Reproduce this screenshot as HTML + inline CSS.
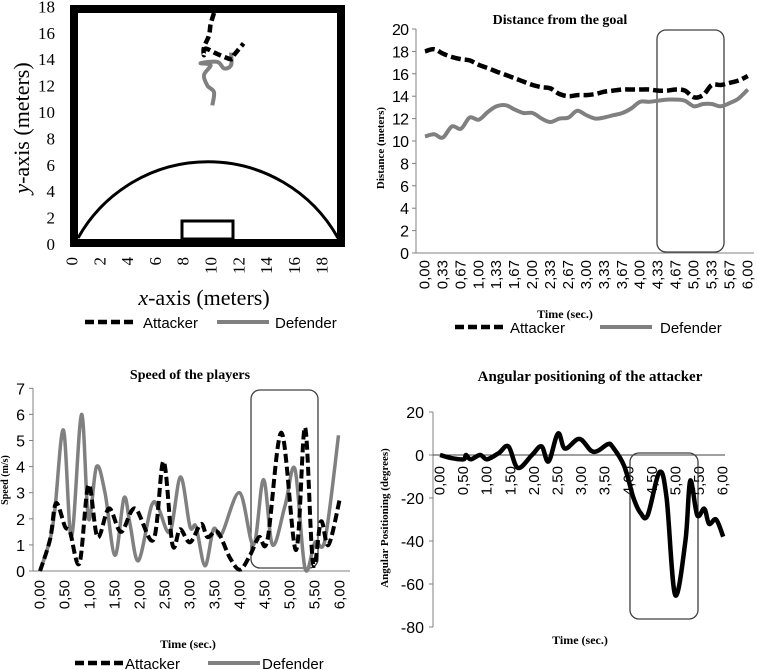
<!DOCTYPE html>
<html><head><meta charset="utf-8">
<style>
html,body{margin:0;padding:0;background:#fff;}
svg{display:block;}
.serif{font-family:"Liberation Serif",serif;}
.sans{font-family:"Liberation Sans",sans-serif;}
</style></head>
<body>
<svg id="fig" width="757" height="670" viewBox="0 0 757 670" xmlns="http://www.w3.org/2000/svg">
<g id="p1"></g>
<g id="p2"></g>
<g id="p3"></g>
<g id="p4"></g>
</svg>
<script>
// ---- Panel 1: field trajectories (meters) ----
const fieldTicks = [0,2,4,6,8,10,12,14,16,18];
const attackerPathX = [10.07,9.83,9.71,9.35,9.35,9.47,10.3,11.3,11.5,12.2];
const attackerPathY = [17.5,16.65,15.8,14.9,14.3,14.8,14.4,14.0,14.3,15.2];
const defenderPathX = [9.95,10.07,9.6,9.35,9.83,9.11,10.3,10.8,11.3,11.3];
const defenderPathY = [10.5,11.5,12.0,12.8,13.55,13.7,13.8,13.3,13.55,14.5];

// ---- Panel 2: distance from goal ----
const distTimes = [0,0.17,0.33,0.5,0.67,0.83,1,1.17,1.33,1.5,1.67,1.83,2,2.17,2.33,2.5,2.67,2.83,3,3.17,3.33,3.5,3.67,3.83,4,4.17,4.33,4.5,4.67,4.83,5,5.17,5.33,5.5,5.67,5.83,6];
const distAttacker = [18.0,18.2,17.8,17.5,17.3,17.2,16.8,16.5,16.2,15.9,15.6,15.3,15.0,14.8,14.7,14.2,14.0,14.1,14.1,14.2,14.4,14.5,14.6,14.6,14.6,14.6,14.5,14.5,14.6,14.5,13.9,14.1,15.0,15.0,15.2,15.4,15.8];
const distDefender = [10.4,10.6,10.3,11.3,11.1,12.1,11.9,12.6,13.1,13.2,12.8,12.5,12.5,12.0,11.7,12.0,12.1,12.7,12.3,12.0,12.1,12.3,12.5,12.9,13.5,13.5,13.6,13.7,13.7,13.6,13.1,13.3,13.3,13.1,13.4,13.8,14.6];
const distTickLabels = ["0,00","0,33","0,67","1,00","1,33","1,67","2,00","2,33","2,67","3,00","3,33","3,67","4,00","4,33","4,67","5,00","5,33","5,67","6,00"];
const distYTicks = [0,2,4,6,8,10,12,14,16,18,20];

// ---- Panel 3: speed ----
const spdAttTimes = [0,0.2,0.32,0.5,0.6,0.79,0.97,1.15,1.38,1.62,1.9,2.27,2.47,2.65,2.8,3.0,3.22,3.35,3.55,3.8,4.0,4.2,4.38,4.55,4.83,5.12,5.3,5.46,5.62,5.77,6.0];
const spdAttacker = [0,1.2,2.6,1.7,1.5,0.3,3.3,1.3,2.4,1.5,2.4,1.2,4.2,1.0,1.6,1.1,1.8,1.3,1.5,0.5,0.05,0.6,1.3,1.2,5.3,0.8,5.5,0.3,1.9,1.0,2.8];
const spdDefTimes = [0,0.2,0.3,0.47,0.63,0.83,0.97,1.13,1.3,1.5,1.68,1.8,1.97,2.23,2.37,2.6,2.81,3.0,3.12,3.3,3.47,3.63,3.99,4.27,4.47,4.65,4.9,5.1,5.3,5.5,5.7,5.97];
const spdDefender = [0,1.2,2.4,5.4,1.3,6.0,2.0,4.0,3.0,0.6,2.8,1.8,0.4,2.5,2.4,1.5,3.6,1.7,1.7,0.2,1.6,1.4,3.0,1.0,3.5,1.0,2.5,3.9,0.1,1.1,1.2,5.2];
const halfTickLabels = ["0,00","0,50","1,00","1,50","2,00","2,50","3,00","3,50","4,00","4,50","5,00","5,50","6,00"];
const spdYTicks = [0,1,2,3,4,5,6,7];

// ---- Panel 4: angular positioning ----
const angTimes = [0,0.25,0.5,0.55,0.65,0.85,1.0,1.25,1.45,1.65,1.95,2.15,2.3,2.5,2.65,2.95,3.2,3.35,3.55,3.65,3.9,4.1,4.25,4.4,4.65,4.8,4.98,5.2,5.3,5.45,5.6,5.7,5.85,6.0];
const angValues = [0,-1.5,-2,0,-2,0,-2,1,4,-6,0,4,-3,10,3,7.5,2,2,5,4,-5,-20,-27,-28,-8,-20,-65,-40,-12,-28,-25,-32,-30,-38];
const angYTicks = [20,0,-20,-40,-60,-80];

const NS="http://www.w3.org/2000/svg";
function mk(parent,tag,attrs,text){const e=document.createElementNS(NS,tag);for(const k in attrs)e.setAttribute(k,attrs[k]);if(text!==undefined)e.textContent=text;parent.appendChild(e);return e;}
function smooth(pts){let d="M"+pts[0][0].toFixed(1)+","+pts[0][1].toFixed(1);
 for(let i=0;i<pts.length-1;i++){const p0=pts[i-1]||pts[i],p1=pts[i],p2=pts[i+1],p3=pts[i+2]||p2;
  const c1=[p1[0]+(p2[0]-p0[0])/6,p1[1]+(p2[1]-p0[1])/6],c2=[p2[0]-(p3[0]-p1[0])/6,p2[1]-(p3[1]-p1[1])/6];
  d+=" C"+c1[0].toFixed(1)+","+c1[1].toFixed(1)+" "+c2[0].toFixed(1)+","+c2[1].toFixed(1)+" "+p2[0].toFixed(1)+","+p2[1].toFixed(1);}
 return d;}
function legend(g,y,x1,x2,x3,x4){
 let a=mk(g,"line",{x1:x1,y1:y,x2:x1+48,y2:y,stroke:"#000","stroke-width":4.5,"stroke-dasharray":"9,4"});
 
 
 let t=mk(g,"text",{x:x2,y:y+6,"font-size":15,class:"sans"},"Attacker");
 
 
 let b=mk(g,"line",{x1:x3,y1:y,x2:x3+52,y2:y,stroke:"#808080","stroke-width":4});
 
 
 let u=mk(g,"text",{x:x4,y:y+6,"font-size":15,class:"sans"},"Defender");
 
 
}
function rotLabel(g,x,y,txt,size,cls){const t=mk(g,"text",{x:0,y:0,"font-size":size,class:cls,"text-anchor":"end",transform:`translate(${x},${y}) rotate(-90)`,"dominant-baseline":"central"},txt);return t;}

// ===== Panel 1 =====
(function(){
 const g=document.getElementById("p1");
 const X=v=>74+v*13.9, Y=v=>244-v*13.2;
 fieldTicks.forEach(v=>{
  let t=mk(g,"text",{x:55,y:Y(v)+6,"font-size":17,"text-anchor":"end",class:"serif"},String(v));
  
  
  let u=rotLabel(g,X(v)-2,257,String(v),17,"serif");
  
  
 });
 let arc=mk(g,"path",{d:"M78,238 A149,149 0 0 1 338,238",fill:"none",stroke:"#000","stroke-width":3});
 
 
 let gb=mk(g,"rect",{x:182,y:221,width:51,height:18,fill:"none",stroke:"#000","stroke-width":3});
 
 
 let fr=mk(g,"rect",{x:74,y:9,width:267,height:234,fill:"none",stroke:"#000","stroke-width":8});
 
 
 let dp=mk(g,"path",{d:smooth(defenderPathX.map((v,i)=>[X(v),Y(defenderPathY[i])])),fill:"none",stroke:"#808080","stroke-width":4});
 
 
 let ap=mk(g,"path",{d:smooth(attackerPathX.map((v,i)=>[X(v),Y(attackerPathY[i])])),fill:"none",stroke:"#000","stroke-width":4.5,"stroke-dasharray":"8,4"});
 
 
 let yt=mk(g,"text",{x:0,y:0,"font-size":22,class:"serif","text-anchor":"middle",transform:"translate(29,128) rotate(-90)"});
 yt.innerHTML='<tspan font-style="italic">y</tspan>-axis (meters)';
 
 
 let xt=mk(g,"text",{x:204,y:305,"font-size":22,class:"serif","text-anchor":"middle"});
 xt.innerHTML='<tspan font-style="italic">x</tspan>-axis (meters)';
 
 
 legend(g,322,85,143,217,275);
})();

// ===== Panel 2 =====
(function(){
 const g=document.getElementById("p2");
 const X=t=>425+t*53.8, Y=v=>253-v*11.2;
 let ti=mk(g,"text",{x:560,y:24,"font-size":14,"font-weight":"bold",class:"serif","text-anchor":"middle"},"Distance from the goal");
 
 
 let ax=mk(g,"path",{d:`M416,${Y(20)} V${Y(0)} H754`,fill:"none",stroke:"#808080","stroke-width":1});
 
 
 distYTicks.forEach(v=>{
  mk(g,"line",{x1:412,x2:416,y1:Y(v),y2:Y(v),stroke:"#808080"});
  let t=mk(g,"text",{x:409,y:Y(v)+6,"font-size":16,"text-anchor":"end",class:"sans","textLength":v>=10?17:8},String(v));
  
  
 });
 distTickLabels.forEach((s,i)=>{
  const t=rotLabel(g,X(i/3),260,s,15,"sans");
  
  
 });
 let box=mk(g,"rect",{x:657,y:30,width:67,height:222,rx:9,fill:"none",stroke:"#404040","stroke-width":1.3});
 
 
 let dl=mk(g,"path",{d:smooth(distTimes.map((t,i)=>[X(t),Y(distDefender[i])])),fill:"none",stroke:"#808080","stroke-width":4});
 
 
 let al=mk(g,"path",{d:smooth(distTimes.map((t,i)=>[X(t),Y(distAttacker[i])])),fill:"none",stroke:"#000","stroke-width":4.5,"stroke-dasharray":"10,4"});
 
 
 let yt=mk(g,"text",{x:0,y:0,"font-size":11,"font-weight":"bold",class:"serif","text-anchor":"middle",transform:"translate(384,148) rotate(-90)"},"Distance (meters)");
 
 
 let xt=mk(g,"text",{x:565,y:318,"font-size":12,"font-weight":"bold",class:"serif","text-anchor":"middle"},"Time (sec.)");
 
 
 legend(g,327,455,510,600,660);
})();

// ===== Panel 3 =====
(function(){
 const g=document.getElementById("p3");
 const X=t=>40+t*50, Y=v=>571-v*26.1;
 let ti=mk(g,"text",{x:190,y:379,"font-size":14,"font-weight":"bold",class:"serif","text-anchor":"middle"},"Speed of the players");
 
 
 let ax=mk(g,"path",{d:`M33,${Y(7)} V${Y(0)} H350`,fill:"none",stroke:"#808080","stroke-width":1});
 
 
 spdYTicks.forEach(v=>{
  mk(g,"line",{x1:29,x2:33,y1:Y(v),y2:Y(v),stroke:"#808080"});
  let t=mk(g,"text",{x:25,y:Y(v)+6,"font-size":16,"text-anchor":"end",class:"sans"},String(v));
  
  
 });
 halfTickLabels.forEach((s,i)=>{
  const t=rotLabel(g,X(i*0.5),580,s,15,"sans");
  
  
 });
 let box=mk(g,"rect",{x:251,y:390,width:67,height:178,rx:9,fill:"none",stroke:"#404040","stroke-width":1.3});
 
 
 let dl=mk(g,"path",{d:smooth(spdDefTimes.map((t,i)=>[X(t),Y(spdDefender[i])])),fill:"none",stroke:"#808080","stroke-width":3.5});
 
 
 let al=mk(g,"path",{d:smooth(spdAttTimes.map((t,i)=>[X(t),Y(spdAttacker[i])])),fill:"none",stroke:"#000","stroke-width":4,"stroke-dasharray":"9,4"});
 
 
 let yt=mk(g,"text",{x:0,y:0,"font-size":10,"font-weight":"bold",class:"serif","text-anchor":"middle",transform:"translate(8,480) rotate(-90)"},"Speed (m/s)");
 
 
 let xt=mk(g,"text",{x:188,y:648,"font-size":12,"font-weight":"bold",class:"serif","text-anchor":"middle"},"Time (sec.)");
 
 
 legend(g,663,75,125,208,262);
})();

// ===== Panel 4 =====
(function(){
 const g=document.getElementById("p4");
 const X=t=>440+t*47.2, Y=v=>455-v*2.15;
 let ti=mk(g,"text",{x:590,y:381,"font-size":15,"font-weight":"bold",class:"serif","text-anchor":"middle"},"Angular positioning of the attacker");
 
 
 let ax=mk(g,"line",{x1:433,x2:433,y1:Y(20),y2:Y(-80),stroke:"#808080","stroke-width":1});
 
 
 let zl=mk(g,"line",{x1:433,x2:725,y1:Y(0),y2:Y(0),stroke:"#404040","stroke-width":1});
 
 
 angYTicks.forEach(v=>{
  mk(g,"line",{x1:429,x2:433,y1:Y(v),y2:Y(v),stroke:"#808080"});
  let t=mk(g,"text",{x:424,y:Y(v)+6,"font-size":16,"text-anchor":"end",class:"sans"},String(v));
  
  
 });
 halfTickLabels.forEach((s,i)=>{
  const t=rotLabel(g,X(i*0.5),466,s,15,"sans");
  
  
 });
 let box=mk(g,"rect",{x:630,y:453,width:68,height:166,rx:9,fill:"none",stroke:"#404040","stroke-width":1.3});
 
 
 let al=mk(g,"path",{d:smooth(angTimes.map((t,i)=>[X(t),Y(angValues[i])])),fill:"none",stroke:"#000","stroke-width":4.5});
 
 
 let yt=mk(g,"text",{x:0,y:0,"font-size":11,"font-weight":"bold",class:"serif","text-anchor":"middle",transform:"translate(388,518) rotate(-90)"},"Angular Positioning (degrees)");
 
 
 let xt=mk(g,"text",{x:580,y:644,"font-size":12,"font-weight":"bold",class:"serif","text-anchor":"middle"},"Time (sec.)");
 
 
})();
</script>
</body></html>
